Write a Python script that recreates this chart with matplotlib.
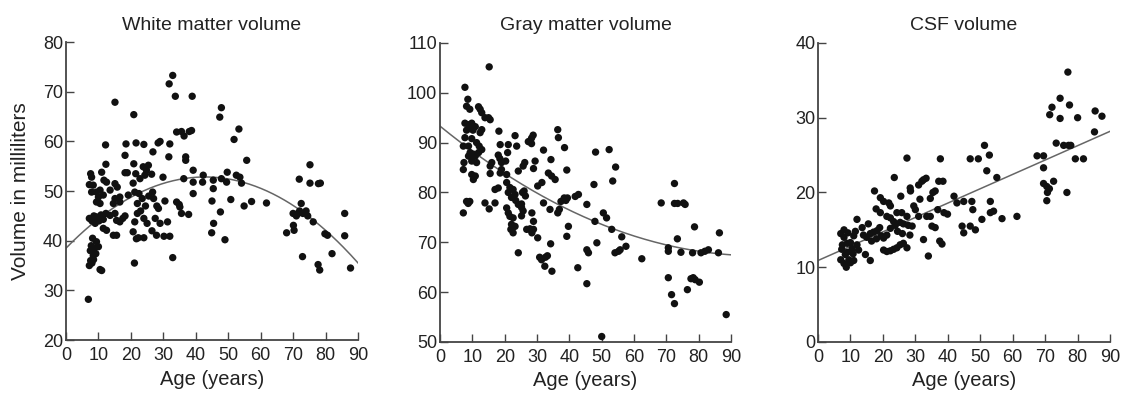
import numpy as np
import matplotlib
matplotlib.use('Agg')
import matplotlib.pyplot as plt

plt.rcParams['font.family'] = ['Liberation Sans', 'DejaVu Sans']

# white matter volume (ml) vs age (years)
wm_age = [6.9, 7.2, 7.6, 8.0, 8.4, 7.5, 8.8, 9.2, 10.0, 9.4, 8.2, 7.8, 8.5,
          10.5, 11.0, 7.2, 8.0, 8.6, 9.4, 10.2, 10.8, 9.0, 11.5,
          7.6, 7.9, 8.4, 7.2, 11.0, 12.5, 11.7, 7.9, 9.4, 10.5, 11.5, 10.0, 13.6,
          9.4, 10.5, 12.3, 13.6, 11.5, 12.5, 12.2, 12.3, 15.1,
          15.1, 15.8, 15.1, 16.6, 14.6, 16.6, 15.1, 15.6, 16.6, 18.2, 14.6, 15.6,
          18.5, 18.2, 18.2, 18.9, 19.2, 17.5,
          21.6, 20.9, 20.9, 21.5, 20.7, 21.2, 22.8, 24.3, 24.8, 23.8, 25.4, 24.0,
          21.2, 20.7, 21.7, 22.3, 24.0, 21.1,
          22.5, 23.5, 24.5, 22.0, 23.0, 25.5, 24.0, 25.0, 26.5, 22.0,
          26.4, 26.7, 27.0, 26.8, 28.4, 29.0, 27.9, 28.0, 28.5, 27.5, 29.0,
          29.9, 30.5, 30.2, 32.0, 31.3, 32.0, 31.7, 31.8, 32.9, 33.7, 32.9,
          34.1, 35.6, 34.1, 34.9, 35.1, 35.6, 36.3, 36.9, 36.9, 36.4,
          38.0, 38.7, 38.9, 37.8, 39.2, 39.2, 39.2,
          42.3, 42.1, 45.4, 45.4, 45.0, 44.9, 45.5, 47.6, 47.9,
          47.4, 47.9, 49.7, 49.5, 49.0, 50.8, 51.8, 53.3,
          52.5, 53.6, 54.1, 54.9, 55.7, 57.2, 61.8,
          68.0, 70.1, 70.3, 70.0, 71.0, 72.0, 73.0, 72.5, 74.0, 71.5, 74.5, 71.9,
          75.2, 75.2, 77.8, 78.4, 76.2, 72.9, 77.7, 78.2, 79.8, 80.6, 82.0,
          85.9, 85.9, 87.7]
wm_vol = [28.2, 35.0, 36.0, 35.5, 37.0, 38.0, 38.5, 37.4, 38.8, 39.8, 40.5, 39.0, 36.2,
          34.2, 34.0, 44.5, 44.0, 45.0, 44.8, 44.0, 45.2, 43.5, 44.3,
          53.5, 52.8, 51.2, 51.3, 53.8, 51.8, 52.2, 49.8, 49.8, 50.2, 49.2, 48.8, 50.2,
          47.8, 47.5, 45.5, 45.1, 42.5, 42.1, 59.3, 55.4, 67.9,
          51.5, 50.8, 48.5, 48.8, 47.5, 47.8, 45.5, 44.1, 43.8, 45.0, 41.1, 41.1,
          59.5, 57.2, 53.7, 53.7, 49.2, 44.5,
          59.7, 65.4, 55.5, 53.5, 51.6, 49.8, 52.5, 53.2, 54.2, 54.9, 55.2, 59.4,
          43.8, 41.8, 40.4, 40.6, 40.6, 35.5,
          49.5, 48.5, 47.0, 47.5, 46.0, 49.0, 44.5, 43.5, 42.0, 45.5,
          53.4, 49.8, 48.5, 57.9, 59.7, 60.0, 41.1, 47.0, 46.5, 44.5, 43.5,
          52.8, 48.0, 40.9, 40.9, 43.8, 59.5, 56.9, 71.6, 73.3, 69.1, 36.6,
          61.9, 62.0, 47.8, 47.3, 46.8, 45.5, 52.5, 56.9, 56.2, 61.1,
          62.0, 62.2, 69.1, 45.3, 54.2, 51.8, 49.5,
          53.2, 51.8, 52.2, 50.5, 48.0, 41.6, 43.5, 45.8, 52.5,
          64.9, 66.8, 53.8, 51.8, 40.2, 48.3, 60.4, 62.5,
          53.2, 52.8, 51.6, 47.0, 56.2, 47.9, 47.6,
          41.6, 43.1, 42.1, 45.5, 45.0, 46.0, 45.5, 47.5, 46.0, 45.5, 45.0, 52.4,
          55.3, 51.6, 51.5, 51.6, 43.8, 36.8, 35.2, 34.1, 41.4, 41.1, 37.4,
          45.5, 41.0, 34.5]

# gray matter volume (ml) vs age (years)
gm_age = [15.2, 7.7, 8.6, 8.2, 9.2, 11.9, 12.4, 12.9, 13.9, 15.0, 15.5,
          7.7, 8.8, 9.8, 10.9, 8.2, 9.2, 10.2, 12.9, 12.4,
          7.7, 9.8, 11.3, 12.1, 7.2, 8.8,
          9.3, 10.3, 10.9, 11.9, 12.9, 9.8, 8.8,
          7.4, 9.8, 11.3, 7.2, 9.8, 10.3, 10.9,
          8.2, 9.2, 8.7, 7.2, 13.9, 15.2, 17.0,
          15.5, 16.0, 15.5, 18.2, 18.6, 18.0, 18.5, 19.0, 20.3, 21.1, 20.9,
          18.6, 19.0, 17.0, 18.0, 20.6, 23.2, 23.7, 24.2,
          20.6, 21.6, 22.6, 23.2, 21.1, 22.1, 23.4,
          20.6, 21.1, 21.6, 22.6, 22.1, 23.2, 21.9, 22.6,
          24.2, 25.2, 25.7, 25.2, 25.5, 25.2,
          24.2, 25.7, 26.2, 26.0, 26.4, 26.8, 27.8, 27.3, 28.3, 28.8, 28.3,
          28.9, 29.4, 28.4, 28.9, 28.9, 27.9, 28.4, 30.2, 30.2, 31.5,
          32.0, 34.3, 32.0, 30.8, 32.4, 31.4, 32.6, 33.2, 34.2, 34.6,
          33.5, 34.5, 35.6, 34.0, 36.4, 36.6, 38.5, 39.2,
          36.4, 36.9, 37.4, 38.4, 39.4, 38.9,
          39.7, 39.2, 41.8, 42.8, 42.6, 45.4, 45.4, 45.9, 45.4,
          48.1, 47.6, 47.9, 48.5, 50.0, 52.3, 54.3, 53.4,
          50.5, 51.5, 53.1, 54.1, 55.2, 55.7, 56.2, 57.5, 62.4,
          68.4, 70.6, 70.6, 70.6, 71.6, 72.5, 72.5, 72.5, 73.5, 73.4, 74.5,
          75.3, 75.8, 76.5, 77.6, 78.3, 78.9, 78.1, 78.7, 80.2, 80.7, 81.9, 83.0,
          86.1, 86.4, 88.5]
gm_vol = [105.2, 101.1, 98.7, 97.3, 96.7, 97.2, 96.7, 96.0, 95.0, 95.0, 94.6,
          93.9, 93.6, 93.9, 93.2, 92.5, 92.8, 92.5, 92.6, 92.0,
          91.0, 90.8, 90.0, 89.3, 89.3, 89.3,
          88.0, 87.7, 87.3, 88.0, 88.6, 87.0, 87.3,
          86.0, 86.3, 86.0, 84.6, 83.6, 82.6, 83.3,
          78.2, 78.2, 77.8, 75.9, 77.9, 76.7, 77.9,
          85.3, 86.0, 83.8, 92.3, 89.6, 87.5, 86.8, 86.0, 86.3, 89.6, 88.0,
          83.9, 84.6, 80.6, 80.9, 83.6, 91.4, 89.3, 84.3,
          82.0, 81.0, 80.6, 79.6, 80.0, 79.0, 78.4,
          76.9, 75.9, 75.2, 74.9, 73.6, 73.2, 72.6, 71.9,
          77.6, 77.0, 76.3, 75.3, 80.0, 77.7,
          67.9, 85.3, 86.0, 80.3, 79.3, 72.6, 72.7, 90.2, 90.9, 91.5, 89.8,
          84.8, 86.3, 75.9, 74.2, 72.6, 72.6, 71.9, 70.9, 81.3, 82.0,
          88.5, 86.6, 77.9, 67.0, 65.2, 66.5, 67.0, 67.3, 69.7, 64.2,
          83.9, 83.3, 82.6, 76.6, 92.6, 91.0, 89.0, 84.5,
          75.9, 76.6, 78.2, 78.9, 78.9, 78.4,
          73.2, 71.2, 79.2, 79.6, 64.9, 77.6, 68.5, 67.9, 61.7,
          88.1, 81.6, 74.2, 69.9, 51.1, 88.6, 85.1, 82.3,
          75.9, 74.9, 72.6, 67.9, 68.2, 68.5, 71.1, 69.2, 66.7,
          77.9, 68.9, 68.2, 62.9, 59.5, 57.7, 81.8, 77.8, 77.8, 70.7, 68.0,
          77.9, 77.6, 60.5, 62.7, 62.9, 62.5, 67.9, 73.1, 62.0, 67.9, 68.2, 68.5,
          67.9, 71.9, 55.5]

# CSF volume (ml) vs age (years)
csf_age = [77.0, 74.6, 72.1, 71.4, 74.6, 77.5, 80.0, 85.4, 87.5, 85.2,
           73.4, 75.7, 77.2, 77.9, 67.5, 69.5, 69.5,
           69.5, 70.5, 71.3, 70.7, 70.5, 72.6, 76.7, 79.3, 81.8,
           46.9, 49.4, 51.3, 52.8, 52.0, 55.1, 37.7, 27.4, 23.5,
           28.4, 31.0, 32.0, 32.5, 33.3, 35.4, 36.1, 37.2, 38.5, 34.6, 31.4,
           25.5, 28.5,
           17.4, 19.2, 20.2, 21.8, 22.3, 24.3, 25.8, 27.4,
           17.9, 19.2, 21.2, 22.3, 23.3,
           29.5, 30.0, 31.0, 33.5, 34.6, 35.1, 36.1, 36.9, 38.8, 39.9,
           41.9, 42.8, 44.9, 47.4, 47.7, 44.4, 44.9, 46.9, 48.5, 50.5,
           53.1, 54.1, 53.1, 56.7, 61.3,
           32.5, 34.0, 37.5, 38.2, 27.4, 14.6, 16.1,
           20.2, 21.2, 22.3, 23.3, 24.3, 25.3, 26.3,
           20.2, 21.2, 22.3, 23.8, 25.3, 26.3, 27.8, 28.3, 29.0, 26.0, 24.5,
           15.0, 16.1, 17.1, 18.2, 19.0, 13.6, 12.0, 14.0, 16.5, 18.0, 19.5, 15.5,
           7.0, 8.0, 9.0, 7.3, 8.4, 7.0, 8.0, 10.0, 11.0, 9.0, 10.0, 11.0,
           7.5, 8.7, 9.5, 10.5, 12.0, 11.5, 8.0, 12.5, 9.2, 10.8]
csf_vol = [36.1, 32.6, 31.4, 30.4, 29.9, 31.7, 30.0, 30.9, 30.2, 28.1,
           26.6, 26.3, 26.3, 26.3, 24.9, 24.9, 23.3,
           21.2, 20.8, 20.5, 20.0, 18.9, 21.5, 20.0, 24.5, 24.5,
           24.5, 24.5, 26.3, 25.0, 22.9, 22.0, 24.5, 24.6, 22.0,
           20.6, 21.0, 21.5, 21.7, 21.9, 20.0, 20.2, 21.5, 21.5, 19.2, 19.1,
           19.5, 20.2,
           20.2, 19.3, 18.8, 18.6, 18.2, 17.3, 17.3, 16.8,
           17.8, 17.3, 16.8, 16.6, 16.1,
           18.2, 17.7, 16.8, 16.8, 16.8, 15.5, 15.3, 17.7, 17.3, 17.1,
           19.5, 18.6, 18.8, 18.8, 17.7, 15.5, 14.6, 15.5, 15.0, 16.4,
           18.8, 17.5, 17.3, 16.5, 16.8,
           13.7, 11.5, 13.5, 13.1, 12.6, 11.7, 10.9,
           12.3, 12.1, 12.2, 12.4, 12.6, 13.0, 13.2,
           13.9, 14.3, 15.2, 15.6, 16.0, 15.8, 15.6, 14.3, 15.5, 14.5, 14.8,
           14.0, 14.5, 14.7, 14.9, 15.3, 15.3, 16.4, 14.3, 13.5, 13.8, 14.2, 15.8,
           14.5, 14.0, 13.2, 12.4, 11.7, 11.0, 10.5, 10.6, 10.9, 12.0, 13.3, 14.2,
           13.0, 10.0, 11.0, 12.5, 13.0, 14.8, 15.0, 12.3, 14.6, 11.8]

# fitted regression curves (polynomial coefficients, highest power first)
wm_fit = [-0.0078, 0.669, 38.5]
gm_fit = [0.00268, -0.528, 93.3]
csf_fit = [0.192, 10.9]

panels = [
    ('White matter volume', wm_age, wm_vol, wm_fit, (20, 80), [20, 30, 40, 50, 60, 70, 80]),
    ('Gray matter volume', gm_age, gm_vol, gm_fit, (50, 110), [50, 60, 70, 80, 90, 100, 110]),
    ('CSF volume', csf_age, csf_vol, csf_fit, (0, 40), [0, 10, 20, 30, 40]),
]
rects = [
    [0.0587, 0.137, 0.2598, 0.756],
    [0.3915, 0.132, 0.2589, 0.759],
    [0.7278, 0.132, 0.2598, 0.759],
]

fig = plt.figure(figsize=(11.24, 3.94), dpi=100)
fx = np.linspace(0, 90, 200)

for (title, age, vol, fit, ylim, yticks), rect in zip(panels, rects):
    ax = fig.add_axes(rect)
    ax.scatter(age, vol, s=28, color='#111111', edgecolors='none', zorder=3)
    ax.plot(fx, np.polyval(fit, fx), color='#666666', lw=1.1, zorder=2)
    ax.set_xlim(0, 90)
    ax.set_ylim(*ylim)
    ax.set_xticks(range(0, 91, 10))
    ax.set_yticks(yticks)
    for s in ['top', 'right']:
        ax.spines[s].set_visible(False)
    for s in ['left', 'bottom']:
        ax.spines[s].set_color('#444444')
        ax.spines[s].set_linewidth(1.3)
    ax.tick_params(direction='in', length=6, width=1, color='#444444',
                   labelsize=13, labelcolor='#222222')
    ax.tick_params(axis='x', pad=5)
    ax.tick_params(axis='y', pad=2)
    ax.set_title(title, fontsize=14, color='#222222', pad=9)
    ax.set_xlabel('Age (years)', fontsize=14.5, color='#222222', labelpad=4)
    ax.patch.set_alpha(0)
    if title.startswith('White'):
        ax.set_ylabel('Volume in milliliters', fontsize=15, color='#222222', labelpad=9)

fig.savefig('out.png', dpi=100)
